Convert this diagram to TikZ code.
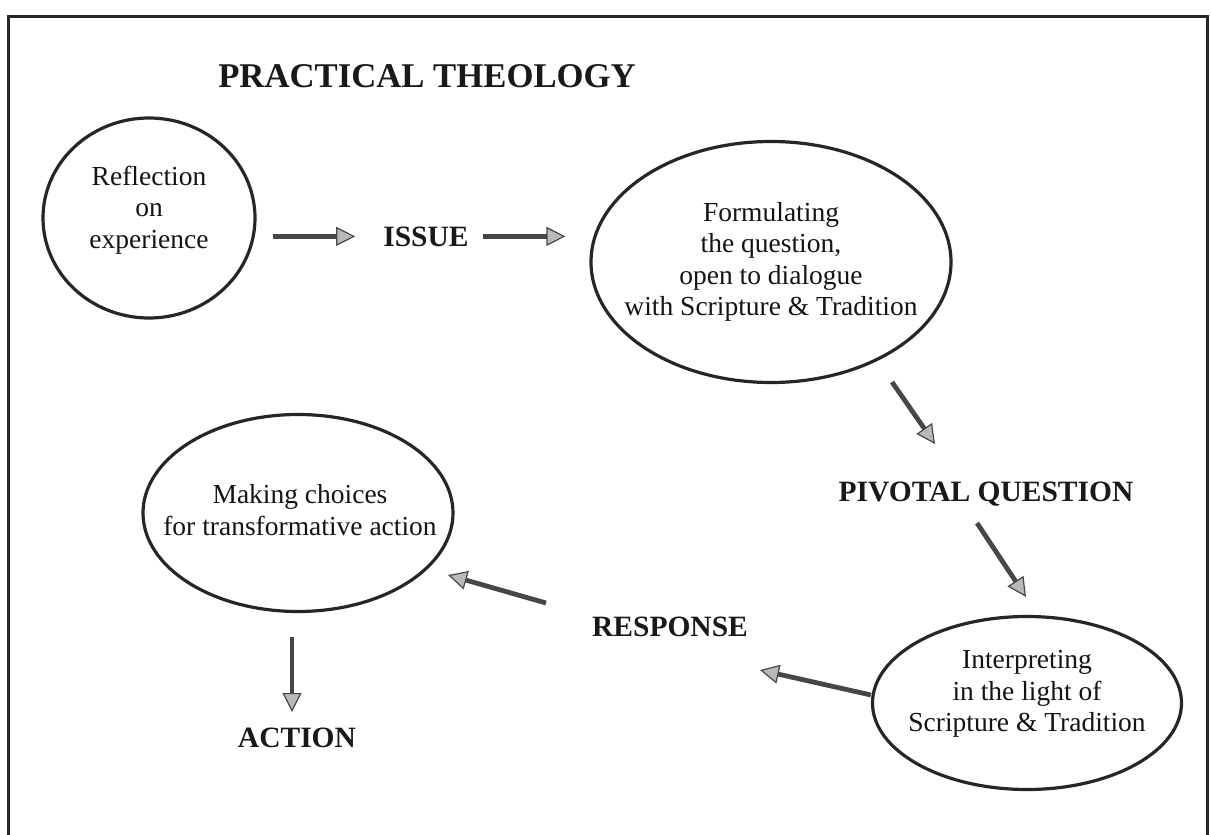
\documentclass[tikz,border=0pt]{standalone}
\usepackage{fontspec}
\setmainfont{Liberation Serif}
\usetikzlibrary{shapes.geometric,arrows.meta}
\begin{document}
\begin{tikzpicture}[x=1pt,y=-1pt,
  oval/.style={ellipse,draw=black!85,line width=3.2pt,inner sep=0pt},
  body/.style={align=center,inner sep=0pt,font=\fontsize{27.5}{31.5}\selectfont,text=black!92},
  lbl/.style={inner sep=0pt,anchor=base,font=\fontsize{29.5}{34}\selectfont\bfseries,text=black!90},
  arr/.style={line width=4.8pt,draw=black!72,-{Triangle[length=19pt,width=19pt,line width=1.2pt,fill=gray!55]}},
]
\useasboundingbox (0,0) rectangle (1211,835);
\draw[line width=3pt,black!85] (8.5,836) -- (8.5,16) -- (1207.5,16) -- (1207.5,836);

\node[inner sep=0pt,anchor=base,font=\fontsize{34.7}{40}\selectfont\bfseries,text=black!90] (title) at (427,87) {PRACTICAL THEOLOGY};

\node[oval,minimum width=212pt,minimum height=200pt] (c1) at (149,218) {};
\node[body] (c1t) at (149,210) {Reflection\\on\\experience};
\node[lbl] (issue) at (426,246) {ISSUE};
\node[oval,minimum width=360pt,minimum height=241pt] (e2) at (771,262) {};
\node[body] (e2t) at (771,262) {Formulating\\the question,\\open to dialogue\\with Scripture \& Tradition};
\node[lbl] (pivotal) at (986,501) {PIVOTAL QUESTION};
\node[oval,minimum width=309pt,minimum height=173pt] (e4) at (1027,703) {};
\node[body] (e4t) at (1027,694) {Interpreting\\in the light of\\Scripture \& Tradition};
\node[lbl] (response) at (670,636) {RESPONSE};
\node[oval,minimum width=310pt,minimum height=197pt] (e3) at (298,513) {};
\node[body] (e3t) at (300,510) {Making choices\\for transformative action};
\node[lbl] (action) at (297,747) {ACTION};

\draw[arr,shorten <=16pt,shorten >=28pt] (c1.east |- issue) -- (issue.west);
\draw[arr,shorten <=14pt,shorten >=24pt] (issue.east) -- (issue.east -| e2.west);
\draw[arr] ([shift={(121,120)}]e2.center) -- ([shift={(-51,-57)}]pivotal.base);
\draw[arr] ([shift={(-9,22)}]pivotal.base) -- ([shift={(-1,-18)}]e4.north);
\draw[arr] ([shift={(0,-8)}]e4.west) -- ([shift={(90,34)}]response.base);
\draw[arr] ([shift={(-124,-33)}]response.base) -- ([shift={(150,62)}]e3.center);
\draw[arr] ([shift={(-6,24)}]e3.south) -- ([shift={(-5,-35)}]action.base);
\end{tikzpicture}
\end{document}
